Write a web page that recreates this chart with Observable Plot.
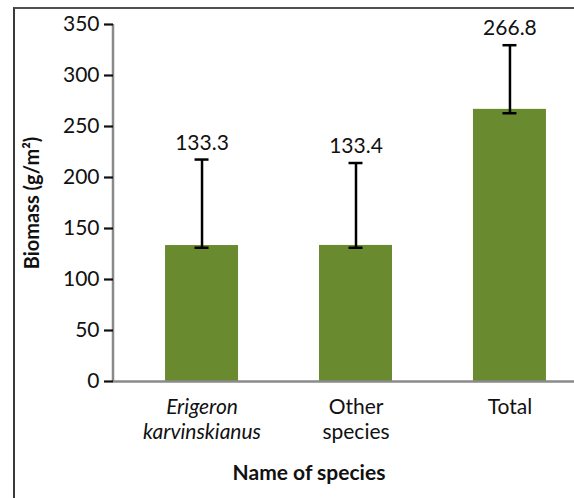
<!DOCTYPE html>
<html>
<head>
<meta charset="utf-8">
<script src="https://cdn.jsdelivr.net/npm/d3@7"></script>
<script src="https://cdn.jsdelivr.net/npm/@observablehq/plot@0.6"></script>
<style>
  html, body { margin: 0; padding: 0; background: #fff; overflow: hidden; }
  #wrap { position: relative; width: 574px; height: 498px; overflow: hidden; }
  #border { position: absolute; left: 13px; top: 7px; width: 600px; height: 489px;
            border-left: 2px solid #3a3a3a; border-top: 2px solid #505050; pointer-events: none; }
</style>
</head>
<body>
<div id="wrap"><div id="border"></div></div>
<script>
// ---- data ----
const categories = ["Erigeron\nkarvinskianus", "Other\nspecies", "Total"];
const italicCategories = ["Erigeron\nkarvinskianus"];
const values = [133.3, 133.4, 266.8];
const errLow = [131.1, 131.1, 263.0];
const errHigh = [217.6, 214.2, 329.7];
const yTicks = [0, 50, 100, 150, 200, 250, 300, 350];
const yLabel = "Biomass (g/m²)";
const xLabel = "Name of species";

const rows = categories.map((c, i) => ({name: c, value: values[i], lo: errLow[i], hi: errHigh[i]}));

const leftAxisLine = (index, scales, values, dims) => {
  const g = d3.create("svg:line")
    .attr("x1", dims.marginLeft).attr("x2", dims.marginLeft)
    .attr("y1", scales.y(0)).attr("y2", scales.y(350))
    .attr("stroke", "#8a8a8a").attr("stroke-width", 2.5);
  return g.node();
};

const chart = Plot.plot({
  width: 574,
  height: 498,
  marginLeft: 113,
  marginRight: 0,
  marginTop: 24,
  marginBottom: 117,
  style: {fontFamily: "Lato", fontSize: "21px", color: "#111", background: "transparent"},
  x: {domain: categories, range: [113, 598], paddingInner: 0.526, paddingOuter: 0.338, round: false, axis: null},
  y: {domain: [0, 350], axis: null},
  marks: [
    Plot.barY(rows, {x: "name", y: "value", fill: "#6a8a30"}),
    Plot.ruleY([0], {stroke: "#8a8a8a", strokeWidth: 2.5}),
    leftAxisLine,
    Plot.axisY({ticks: yTicks, tickSize: 9, tickPadding: 5, strokeWidth: 2.2, color: "#111", fontSize: 21}),
    Plot.ruleX(rows, {x: "name", y1: "lo", y2: "hi", stroke: "#000", strokeWidth: 2.5}),
    Plot.tickY(rows, {x: "name", y: "hi", stroke: "#000", strokeWidth: 2.5, insetLeft: 29.5, insetRight: 29.5}),
    Plot.tickY(rows, {x: "name", y: "lo", stroke: "#000", strokeWidth: 2.5, insetLeft: 29.5, insetRight: 29.5}),
    Plot.text(rows, {x: "name", y: "hi", text: d => d.value.toFixed(1), dy: -16.5, lineAnchor: "middle", fill: "#111", fontSize: 21}),
    Plot.text(categories.filter(c => italicCategories.includes(c)), {x: d => d, frameAnchor: "bottom", lineAnchor: "top", dy: 14, lineHeight: 1.22, fontStyle: "italic", fill: "#111", fontSize: 21}),
    Plot.text(categories.filter(c => !italicCategories.includes(c)), {x: d => d, frameAnchor: "bottom", lineAnchor: "top", dy: 14, lineHeight: 1.22, fill: "#111", fontSize: 21}),
    Plot.text([xLabel], {frameAnchor: "bottom", lineAnchor: "middle", dy: 92, dx: -35, fontWeight: "bold", fill: "#111", fontSize: 21}),
    Plot.text([yLabel], {frameAnchor: "left", textAnchor: "middle", lineAnchor: "middle", rotate: -90, dx: -81, fontWeight: "bold", fill: "#111", fontSize: 20})
  ]
});
document.getElementById("wrap").insertBefore(chart, document.getElementById("border"));
</script>
</body>
</html>
